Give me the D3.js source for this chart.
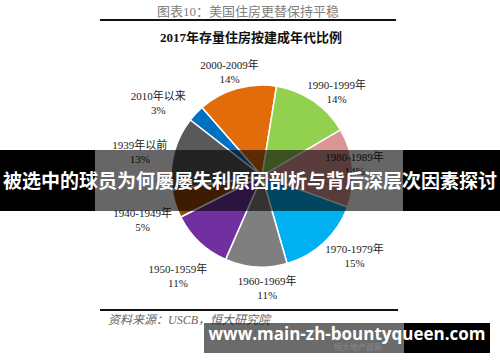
<!DOCTYPE html>
<html><head><meta charset="utf-8">
<script src="https://cdn.jsdelivr.net/npm/d3@7"></script>
<style>body{margin:0;background:#fff}svg{display:block}</style>
</head><body>
<script>
const categories = ["2010年以来","2000-2009年","1990-1999年","1980-1989年","1970-1979年","1960-1969年","1950-1959年","1940-1949年","1939年以前"];
const shares = [3,14,14,14,15,11,11,5,13];
const colors = ["#0070C0","#E36C0A","#92D050","#D99694","#00B0F0","#7F7F7F","#7030A0","#984807","#595959"];
const labelNudge = [[-18,8],[0,9],[8,13],[-25,-1],[12,-6],[13,-6],[-3,14],[-7,8],[-8,6]];
const title = "图表10：美国住房更替保持平稳";
const subtitle = "2017年存量住房按建成年代比例";
const source = "资料来源：USCB，恒大研究院";
const banner = "被选中的球员为何屡屡失利原因剖析与背后深层次因素探讨";
const watermark = "www.main-zh-bountyqueen.com";

const W=500,H=362;
const svg=d3.select("body").append("svg").attr("width",W).attr("height",H);
const serif="'Liberation Serif','Times New Roman','Noto Sans CJK SC',serif";
const cjk="'Noto Sans CJK SC','Noto Sans',sans-serif";

svg.append("text").attr("x",248).attr("y",16).attr("text-anchor","middle")
  .style("font-family",serif).style("font-size","13px").attr("fill","#808080").text(title);
svg.append("line").attr("x1",100).attr("x2",396).attr("y1",20).attr("y2",20).attr("stroke","#111").attr("stroke-width",2);
svg.append("text").attr("x",251).attr("y",42).attr("text-anchor","middle")
  .style("font-family",serif).style("font-size","13px").style("font-weight","bold").attr("fill","#111").text(subtitle);

const cx=262, cy=176, r=91;
const startA = -52*Math.PI/180;
const pie=d3.pie().sort(null).value(d=>d).startAngle(startA).endAngle(startA+2*Math.PI);
const arcs=pie(shares);
const arc=d3.arc().innerRadius(0).outerRadius(r);
const g=svg.append("g").attr("transform",`translate(${cx},${cy})`);
g.selectAll("path").data(arcs).join("path").attr("d",arc)
  .attr("fill",(d,i)=>colors[i]).attr("stroke","#fff").attr("stroke-width",1.5);

const labelArc=d3.arc().innerRadius(118).outerRadius(118);
const lg=g.selectAll("g.lbl").data(arcs).join("g").attr("class","lbl")
  .attr("transform",(d,i)=>{const c=labelArc.centroid(d);return `translate(${c[0]+labelNudge[i][0]},${c[1]+labelNudge[i][1]})`;});
lg.append("text").attr("y",-3).attr("text-anchor","middle").style("font-family",serif).style("font-size","11px").attr("fill","#222")
  .text((d,i)=>categories[i]);
lg.append("text").attr("y",11).attr("text-anchor","middle").style("font-family",serif).style("font-size","11px").attr("fill","#222")
  .text((d,i)=>shares[i]+"%");

svg.append("line").attr("x1",100).attr("x2",398).attr("y1",310).attr("y2",310).attr("stroke","#111").attr("stroke-width",2);
svg.append("text").attr("x",108).attr("y",324).style("font-family",serif).style("font-style","italic")
  .style("font-size","12px").attr("fill","#666").text(source);

// banner overlay
svg.append("rect").attr("x",0).attr("y",150).attr("width",95).attr("height",61).attr("fill","#000");
svg.append("rect").attr("x",95).attr("y",150).attr("width",308).attr("height",61).attr("fill","rgba(0,0,0,0.6)");
svg.append("rect").attr("x",403).attr("y",150).attr("width",97).attr("height",61).attr("fill","#000");
svg.append("text").attr("x",250).attr("y",188).attr("text-anchor","middle")
  .style("font-family",cjk).style("font-weight","bold").style("font-size","19px").attr("fill","#fff").text(banner);

// watermark box
svg.append("rect").attr("x",204).attr("y",323).attr("width",200).attr("height",30).attr("fill","rgba(0,0,0,0.58)");
svg.append("rect").attr("x",404).attr("y",323).attr("width",86).attr("height",30).attr("fill","#000");
svg.append("text").attr("x",358).attr("y",350).attr("text-anchor","middle")
  .style("font-family",cjk).style("font-size","8px").attr("fill","#888").text("恒大地产观察");
svg.append("text").attr("x",347).attr("y",340).attr("text-anchor","middle")
  .style("font-family","'Open Sans','DejaVu Sans',sans-serif").style("font-weight","bold").style("font-size","17px").attr("fill","#fff").text(watermark);
</script>
</body></html>
